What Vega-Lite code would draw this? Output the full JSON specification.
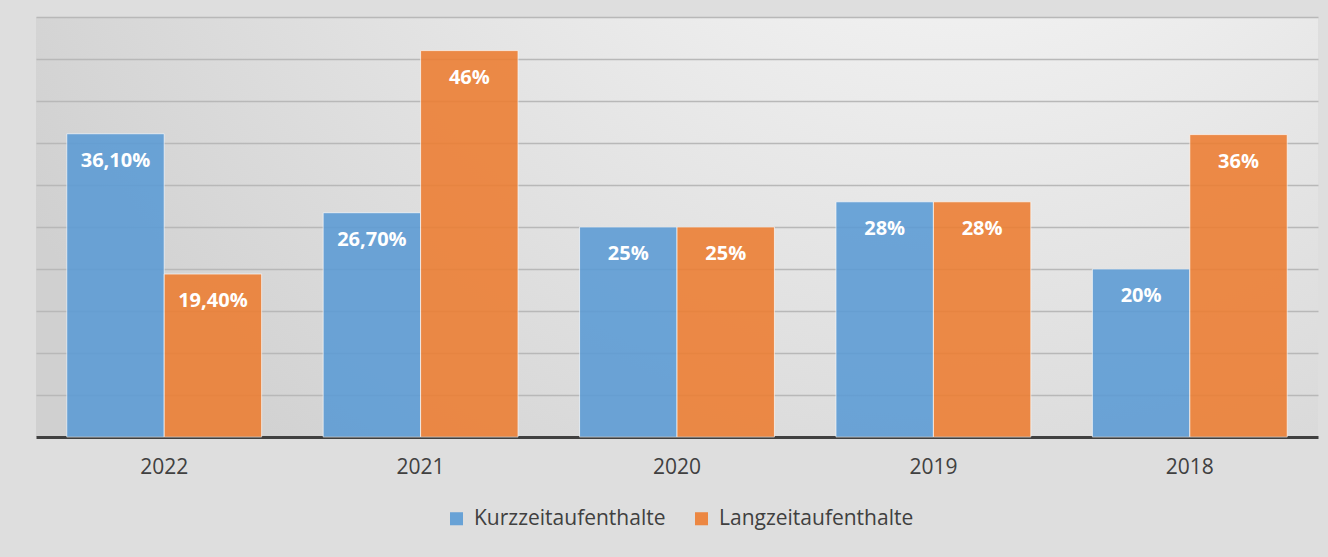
{
  "$schema": "https://vega.github.io/schema/vega-lite/v6.json",
  "width": 1282,
  "height": 420,
  "autosize": "none",
  "padding": {"left": 36, "top": 17, "right": 10, "bottom": 120},
  "background": "#dedede",
  "config": {
    "view": {"stroke": null, "fill": {"gradient": "radial", "x1": 0.72, "y1": 0.05, "x2": 0.72, "y2": 0.05, "r1": 0, "r2": 0.85, "stops": [{"offset": 0, "color": "#ffffff"}, {"offset": 1, "color": "#d0d0d0"}]}},
    "font": "Open Sans"
  },
  "data": {
    "values": [
      {"year": "2022", "series": "Kurzzeitaufenthalte", "value": 36.1, "label": "36,10%"},
      {"year": "2022", "series": "Langzeitaufenthalte", "value": 19.4, "label": "19,40%"},
      {"year": "2021", "series": "Kurzzeitaufenthalte", "value": 26.7, "label": "26,70%"},
      {"year": "2021", "series": "Langzeitaufenthalte", "value": 46, "label": "46%"},
      {"year": "2020", "series": "Kurzzeitaufenthalte", "value": 25, "label": "25%"},
      {"year": "2020", "series": "Langzeitaufenthalte", "value": 25, "label": "25%"},
      {"year": "2019", "series": "Kurzzeitaufenthalte", "value": 28, "label": "28%"},
      {"year": "2019", "series": "Langzeitaufenthalte", "value": 28, "label": "28%"},
      {"year": "2018", "series": "Kurzzeitaufenthalte", "value": 20, "label": "20%"},
      {"year": "2018", "series": "Langzeitaufenthalte", "value": 36, "label": "36%"}
    ]
  },
  "encoding": {
    "x": {
      "field": "year", "type": "nominal", "sort": null,
      "scale": {"paddingInner": 0.24, "paddingOuter": 0.12},
      "axis": {"title": null, "labelAngle": 0, "labelFontSize": 21, "labelColor": "#404040", "labelPadding": 19, "ticks": false, "domainColor": "#404040", "domainWidth": 3, "grid": false}
    },
    "xOffset": {"field": "series", "type": "nominal", "sort": null},
    "y": {
      "field": "value", "type": "quantitative",
      "scale": {"domain": [0, 50], "nice": false},
      "axis": {"title": null, "labels": false, "ticks": false, "domain": false, "values": [5, 10, 15, 20, 25, 30, 35, 40, 45, 50], "gridColor": "#b8b8b8", "gridWidth": 1.3}
    }
  },
  "layer": [
    {
      "mark": {"type": "bar", "opacity": 0.88, "stroke": "#ffffff", "strokeWidth": 1, "strokeOpacity": 0.7},
      "encoding": {
        "color": {
          "field": "series", "type": "nominal", "sort": null,
          "scale": {"domain": ["Kurzzeitaufenthalte", "Langzeitaufenthalte"], "range": ["#5b9bd5", "#ed7d31"]},
          "legend": {"title": null, "orient": "none", "legendX": 410, "legendY": 491, "direction": "horizontal", "labelFontSize": 21, "labelLimit": 0, "labelColor": "#404040", "symbolType": "square", "symbolSize": 170, "symbolOpacity": 0.9, "symbolStrokeWidth": 0, "columnPadding": 25, "labelOffset": 7}
        }
      }
    },
    {
      "mark": {"type": "text", "color": "#ffffff", "fontWeight": "bold", "fontSize": 20, "baseline": "middle", "dy": 27},
      "encoding": {"text": {"field": "label"}}
    }
  ]
}
